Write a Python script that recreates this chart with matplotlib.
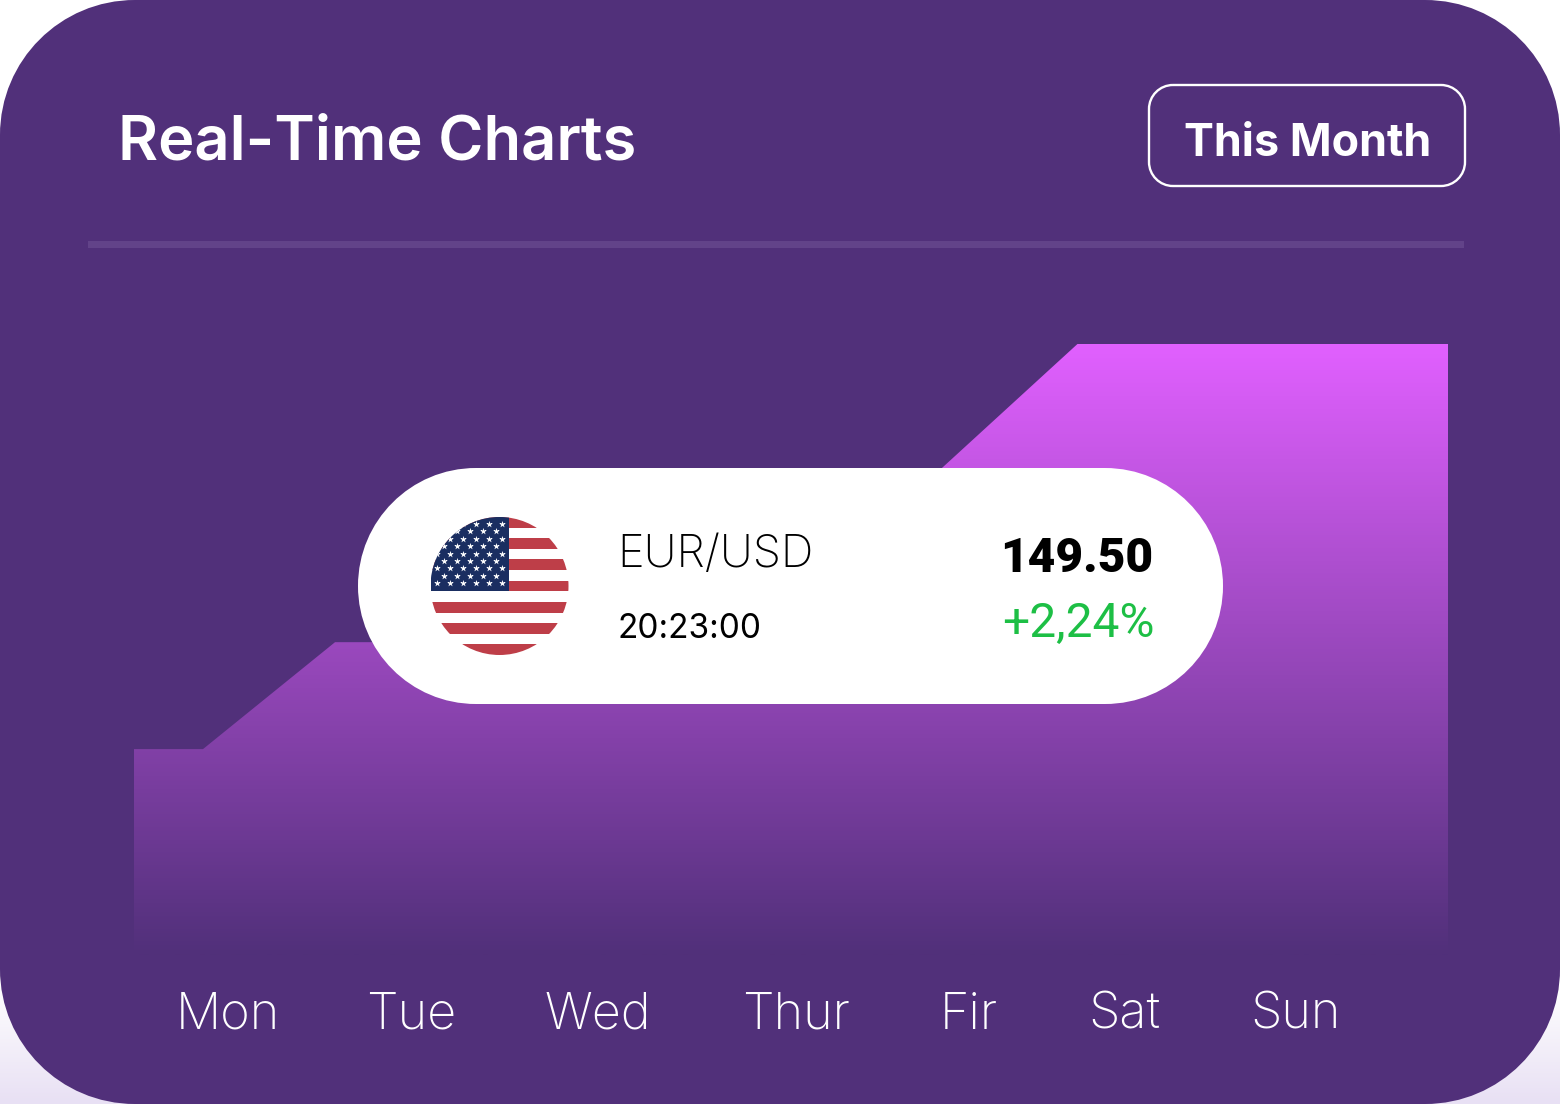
import numpy as np
import matplotlib
matplotlib.use("Agg")
import matplotlib.pyplot as plt
from matplotlib.colors import LinearSegmentedColormap
from matplotlib.patches import Circle, PathPatch, Rectangle
from matplotlib.path import Path

W, H = 1560, 1104
BG = "#51307a"

# area series, x and y in percent of the plot box
area_x = [0, 5.25, 15.3, 47, 71.8, 100]
area_y = [33.7, 33.7, 51.2, 51.2, 100, 100]
days = ["Mon", "Tue", "Wed", "Thur", "Fir", "Sat", "Sun"]
day_pos = [7.15, 21.1, 35.3, 50.4, 63.5, 75.4, 88.4]

title = "Real-Time Charts"
button = "This Month"
pair = "EUR/USD"
clock = "20:23:00"
price = "149.50"
change = "+2,24%"


def round_box(x0, y0, x1, y1, r):
    k = r * 0.5523
    verts = [(x0 + r, y0), (x1 - r, y0),
             (x1 - r + k, y0), (x1, y0 + r - k), (x1, y0 + r),
             (x1, y1 - r),
             (x1, y1 - r + k), (x1 - r + k, y1), (x1 - r, y1),
             (x0 + r, y1),
             (x0 + r - k, y1), (x0, y1 - r + k), (x0, y1 - r),
             (x0, y0 + r),
             (x0, y0 + r - k), (x0 + r - k, y0), (x0 + r, y0)]
    codes = [Path.MOVETO, Path.LINETO, Path.CURVE4, Path.CURVE4, Path.CURVE4,
             Path.LINETO, Path.CURVE4, Path.CURVE4, Path.CURVE4,
             Path.LINETO, Path.CURVE4, Path.CURVE4, Path.CURVE4,
             Path.LINETO, Path.CURVE4, Path.CURVE4, Path.CURVE4]
    return Path(verts, codes)


def px_axes(z):
    a = fig.add_axes([0, 0, 1, 1], zorder=z)
    a.set_xlim(0, W)
    a.set_ylim(H, 0)
    a.axis("off")
    a.patch.set_alpha(0)
    return a


fig = plt.figure(figsize=(W / 100, H / 100), dpi=100)

# card and the faint glow showing at the bottom corners
back = px_axes(0)
glow = LinearSegmentedColormap.from_list("glow", ["#ffffff", "#e8e0f4"])
back.imshow(np.linspace(0, 1, 200)[:, None], cmap=glow, extent=[0, W, 1104, 985], aspect="auto")
back.set_xlim(0, W)
back.set_ylim(H, 0)
back.add_patch(PathPatch(round_box(0, 0, W, H, 135), fc=BG, ec="none"))
back.add_patch(Rectangle((88, 241), 1376, 7, fc="#624389", ec="none"))
back.add_patch(PathPatch(round_box(1149, 85, 1465, 186, 24), fc="none", ec="white", lw=1.7))
back.text(117.5, 160, title, color="white", fontsize=44.3, family="Inter", weight="semibold", va="baseline")
back.text(1308, 156, button, color="white", fontsize=32.3, family="Inter", weight="bold", ha="center", va="baseline")

# area chart
ax = fig.add_axes([134 / W, 1 - 955 / H, (1448 - 134) / W, (955 - 344) / H], zorder=1)
ax.patch.set_alpha(0)
for s in ax.spines.values():
    s.set_visible(False)
cmap = LinearSegmentedColormap.from_list("area", [BG, "#e160ff"])
poly = ax.fill_between(area_x, area_y, 0, color="none")
im = ax.imshow(np.linspace(1, 0, 256)[:, None], cmap=cmap, extent=[0, 100, 0, 100], aspect="auto", vmin=0, vmax=1)
im.set_clip_path(poly.get_paths()[0], transform=ax.transData)
ax.set_xlim(0, 100)
ax.set_ylim(0, 100)
ax.set_yticks([])
ax.set_xticks(day_pos)
ax.set_xticklabels(days, color="white", fontsize=36.3, family="Inter", weight="light")
ax.tick_params(axis="x", length=0, pad=26.5)

# price pill with flag
top = px_axes(2)
top.add_patch(PathPatch(round_box(358, 468, 1223, 704, 118), fc="white", ec="none"))

cx, cy, r = 499.5, 586, 69
disc = Circle((cx, cy), r, transform=top.transData)
stripe_h = 2 * r / 13
for i in range(0, 13, 2):
    s = top.add_patch(Rectangle((cx - r, cy - r + i * stripe_h), 2 * r, stripe_h, fc="#be3e48", ec="none"))
    s.set_clip_path(disc)
canton = top.add_patch(Rectangle((cx - r, cy - r), 78.7, 7 * stripe_h, fc="#1a2e61", ec="none"))
canton.set_clip_path(disc)
star_x, star_y = [], []
for row in range(9):
    n = 6 if row % 2 == 0 else 5
    first = 502.3 if row % 2 == 0 else 495.7
    for c in range(n):
        star_x.append(first - 13 * c)
        star_y.append(524 + 7.4 * row)
stars = top.scatter(star_x, star_y, s=26, marker="*", c="white", linewidths=0)
stars.set_clip_path(disc)

top.text(617, 567, pair, color="black", fontsize=32.6, family="Inter", weight="light", va="baseline")
top.text(618, 638, clock, color="black", fontsize=24, family="Inter", va="baseline")
top.text(1153, 572, price, color="black", fontsize=34.5, family="Roboto", weight="black", ha="right", va="baseline")
top.text(1155, 637, change, color="#1dbf45", fontsize=34.5, family="Roboto", ha="right", va="baseline")

fig.savefig("out.png", dpi=100)
